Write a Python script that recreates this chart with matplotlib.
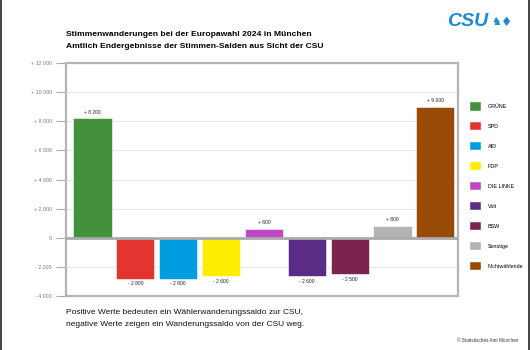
import matplotlib.pyplot as plt
import matplotlib.patches as mpatches
from matplotlib.lines import Line2D

plt.rcParams['font.family'] = ['Liberation Sans', 'DejaVu Sans']

# Daten: Stimmen-Salden aus Sicht der CSU
parteien = ['GRÜNE', 'SPD', 'AfD', 'FDP', 'DIE LINKE', 'Volt', 'BSW', 'Sonstige', 'Nichtwählende']
salden = [8200, -2800, -2800, -2600, 600, -2600, -2500, 800, 9000]
farben = ['#43913b', '#e3342f', '#009de0', '#ffed00', '#c146c6',
          '#5b2c86', '#7b2450', '#b3b3b3', '#984a06']
yticks = [-4000, -2000, 0, 2000, 4000, 6000, 8000, 10000, 12000]


def fmt(v):
    if v == 0:
        return '0'
    s = f'{abs(v):,}'.replace(',', ' ')
    return ('+ ' if v > 0 else '- ') + s


fig = plt.figure(figsize=(5.3, 3.5), dpi=100)
ax = fig.add_axes([66 / 530, 54 / 350, 392 / 530, 233 / 350])

x = list(range(len(parteien)))
ax.bar(x, salden, width=0.89, color=farben, edgecolor='white', linewidth=0.4, zorder=3)
ax.set_xlim(-0.62, 8.53)
ax.set_ylim(-4000, 12000)

for xi, v in zip(x, salden):
    if v > 0:
        ax.text(xi, v + 250, fmt(v), ha='center', va='bottom', fontsize=3.6, color='#222222')
    else:
        ax.text(xi, v - 200, fmt(v), ha='center', va='top', fontsize=3.6, color='#222222')

ax.set_yticks(yticks)
ax.set_yticklabels([fmt(t) for t in yticks], fontsize=3.8, color='#777777')
ax.set_xticks([])
ax.tick_params(axis='y', length=7, width=0.8, color='#aaaaaa', pad=3)
ax.grid(axis='y', color='#e8e8e8', linewidth=0.8, zorder=0)
ax.axhline(0, color='#aaaaaa', linewidth=2, zorder=4)
for sp in ax.spines.values():
    sp.set_color('#b4b4b4')
    sp.set_linewidth(1.6)

# Legende rechts
handles = [mpatches.Patch(facecolor=c, edgecolor='white', linewidth=0.3) for c in farben]
fig.legend(handles, parteien, loc='upper left', bbox_to_anchor=(468 / 530, 1 - 100 / 350),
           frameon=False, fontsize=3.9, handlelength=2.0, handleheight=2.0,
           labelspacing=2.14, handletextpad=1.2, borderaxespad=0)

# Titel
fig.text(66 / 530, 1 - 34 / 350, 'Stimmenwanderungen bei der Europawahl 2024 in München',
         fontsize=6.1, fontweight='bold', va='center', ha='left')
fig.text(66 / 530, 1 - 46 / 350, 'Amtlich Endergebnisse der Stimmen-Salden aus Sicht der CSU',
         fontsize=6.1, fontweight='bold', va='center', ha='left')

# Logo
fig.text(447 / 530, 1 - 22 / 350, 'CSU', fontsize=14, fontweight='bold', style='italic',
         color='#1a8ad4', va='center', ha='left')
fig.text(496 / 530, 1 - 22 / 350, '♞', fontsize=8, color='#1a8ad4', va='center', ha='center',
         family=['DejaVu Sans'])
fig.text(507 / 530, 1 - 22 / 350, '♦', fontsize=9, color='#1a8ad4', va='center', ha='center',
         family=['DejaVu Sans'])

# Fussnote
fig.text(66 / 530, 1 - 313 / 350, 'Positive Werte bedeuten ein Wählerwanderungssaldo zur CSU,',
         fontsize=6.0, va='center', ha='left', color='#111111')
fig.text(66 / 530, 1 - 325 / 350, 'negative Werte zeigen ein Wanderungssaldo von der CSU weg.',
         fontsize=6.0, va='center', ha='left', color='#111111')
fig.text(518 / 530, 1 - 341 / 350, '© Statistisches Amt München', fontsize=3.3,
         va='center', ha='right', color='#333333')

# Rahmen links und rechts
fig.add_artist(Line2D([1 / 530, 1 / 530], [0, 1], color='#222222', linewidth=1.2))
fig.add_artist(Line2D([529 / 530, 529 / 530], [0, 1], color='#222222', linewidth=1.2))

fig.savefig('out.png', dpi=100)
